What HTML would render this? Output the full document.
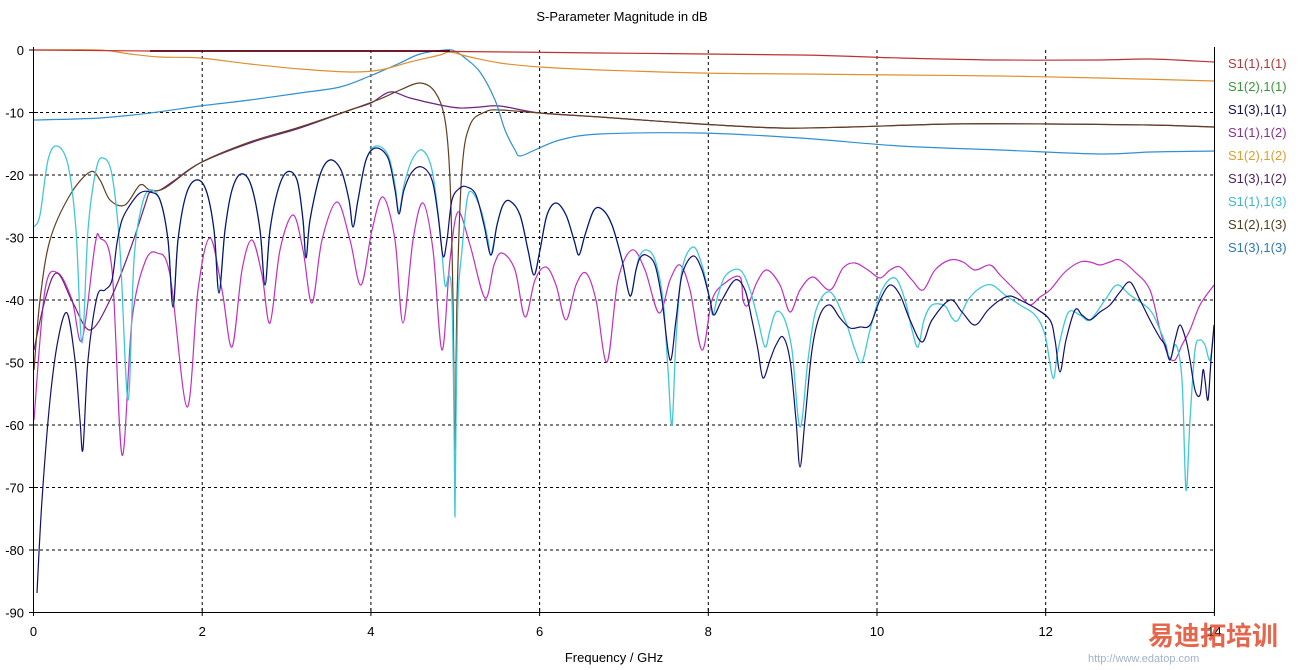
<!DOCTYPE html>
<html><head><meta charset="utf-8"><style>
body{margin:0;background:#fff;}
svg{display:block}
text{font-family:"Liberation Sans","Noto Sans CJK SC",sans-serif;}
</style></head><body>
<svg id="s" width="1303" height="670" xmlns="http://www.w3.org/2000/svg">
<rect width="1303" height="670" fill="#fff"/>
<text x="622" y="21" font-size="13" text-anchor="middle" fill="#000">S-Parameter Magnitude in dB</text>
<text x="614" y="662" font-size="13" text-anchor="middle" fill="#000">Frequency / GHz</text>
<g id="grid" stroke="#000" stroke-width="1" stroke-dasharray="3,3"></g>
<g id="ticks" font-size="13" fill="#000"></g>
<g id="curves" fill="none" stroke-width="1.2" stroke-linejoin="round"></g>
<line x1="33.5" y1="47" x2="33.5" y2="612.5" stroke="#000"/>
<line x1="30" y1="612.5" x2="1214.5" y2="612.5" stroke="#000"/>
<line x1="1214.5" y1="47" x2="1214.5" y2="612.5" stroke="#000"/>
<g font-size="13">
<text x="1228" y="68" fill="#b03838">S1(1),1(1)</text>
<text x="1228" y="91" fill="#389838">S1(2),1(1)</text>
<text x="1228" y="114" fill="#101050">S1(3),1(1)</text>
<text x="1228" y="137" fill="#8a3090">S1(1),1(2)</text>
<text x="1228" y="160" fill="#d8a030">S1(2),1(2)</text>
<text x="1228" y="183" fill="#502060">S1(3),1(2)</text>
<text x="1228" y="206" fill="#40b8c8">S1(1),1(3)</text>
<text x="1228" y="229" fill="#504020">S1(2),1(3)</text>
<text x="1228" y="252" fill="#3078b0">S1(3),1(3)</text>
</g>
<text x="1148" y="645" font-size="26" font-weight="bold" fill="#e04020" opacity="0.8">易迪拓培训</text>
<text x="1088" y="662" font-size="11" fill="#6080a0" opacity="0.6">http://www.edatop.com</text>
</svg>
<script>
var NS="http://www.w3.org/2000/svg";
var g=document.getElementById('grid'),t=document.getElementById('ticks'),c=document.getElementById('curves');
function el(p,n,a){var e=document.createElementNS(NS,n);for(var k in a)e.setAttribute(k,a[k]);p.appendChild(e);return e;}
for(var i=1;i<=8;i++){var y=50+i*62.5;el(g,'line',{x1:34,x2:1214,y1:y.toFixed(1),y2:y.toFixed(1)});}
for(var i=1;i<=6;i++){var x=33.5+i*168.7;el(g,'line',{x1:x.toFixed(1),x2:x.toFixed(1),y1:50,y2:612});}
for(var i=0;i<=9;i++){var y=50+i*62.5;var tx=el(t,'text',{x:24,y:(y+5).toFixed(1),'text-anchor':'end'});tx.textContent=i==0?'0':'-'+(i*10);
el(t,'line',{x1:29,x2:38,y1:y,y2:y,stroke:'#000'});}
for(var i=0;i<=7;i++){var x=33.5+i*168.7;var tx=el(t,'text',{x:x.toFixed(1),y:636,'text-anchor':'middle'});tx.textContent=i*2;
el(t,'line',{x1:x,x2:x,y1:608,y2:616,stroke:'#000'});}
function P(col,p,w){
 var n=p.length/2,X=[],Y=[];for(var i=0;i<n;i++){X.push(p[2*i]);Y.push(p[2*i+1]);}
 var d='M'+X[0]+','+Y[0];
 for(var i=0;i<n-1;i++){
  var x0=X[Math.max(i-1,0)],y0=Y[Math.max(i-1,0)],x1=X[i],y1=Y[i],x2=X[i+1],y2=Y[i+1],x3=X[Math.min(i+2,n-1)],y3=Y[Math.min(i+2,n-1)];
  var k=1/6;
  var c1x=x1+(x2-x0)*k,c1y=y1+(y2-y0)*k,c2x=x2-(x3-x1)*k,c2y=y2-(y3-y1)*k;
  // keep control x monotonic within segment
  c1x=Math.min(Math.max(c1x,x1),x2);c2x=Math.min(Math.max(c2x,x1),x2);
  d+=' C'+c1x.toFixed(1)+','+c1y.toFixed(1)+' '+c2x.toFixed(1)+','+c2y.toFixed(1)+' '+x2+','+y2;
 }
 el(c,'path',{d:d,stroke:col,'stroke-width':w||1.2});}
var mag=[34,420,45,290,58,273,72,300,82,340,95,245,100,238,112,270,122,455,132,320,145,262,157,253,170,275,187,407,198,290,210,238,222,290,232,347,242,270,252,240,262,275,270,323,280,250,293,215,303,250,312,303,322,240,337,202,350,240,361,285,372,230,383,197,395,240,403,323,413,240,423,203,433,250,442,350,450,260,458,212,470,245,485,298,494,265,502,253,515,270,525,317,535,280,546,267,556,285,566,320,576,285,586,273,596,300,607,362,618,280,632,250,645,270,659,313,670,280,680,265,690,290,702,350,712,300,725,283,740,277,743,300,748,305,757,282,767,270,780,285,790,312,800,290,813,277,830,290,843,268,855,263,868,270,880,278,890,270,900,267,912,280,923,290,935,270,950,260,963,262,975,270,990,265,1000,275,1010,285,1020,295,1030,305,1040,297,1050,290,1065,272,1080,262,1090,262,1100,265,1110,262,1120,260,1135,272,1150,290,1160,330,1168,355,1175,360,1182,345,1190,330,1200,305,1214,285];
P('#c030c0',mag);
var grn=mag.slice(0,mag.indexOf(830)).concat([830,285,845,272,860,268,880,272,900,275,922,280,940,270,960,260,980,263,1000,270,1015,285,1030,300,1040,310,1050,290,1060,275,1080,262,1100,255,1120,260,1135,272,1150,295,1160,330,1165,370,1168,412,1172,360,1178,300,1190,290,1200,292,1214,300]);
P('#40a040',grn.slice(mag.indexOf(700)),1.1);
P('#702080',[34,350,45,300,57,273,73,303,90,330,110,300,130,250,145,205,150,192,160,190,175,180,200,163,250,143,300,128,350,110,371,103,390,92,410,98,440,105,460,108,480,107,500,106,540,113,600,117,700,124,780,128,850,127,950,124,1050,124,1150,125,1214,127]);
P('#604020',[34,370,40,300,50,240,70,195,90,172,100,180,110,200,125,205,140,185,150,190,165,188,200,163,250,142,300,127,350,110,380,99,400,90,420,83,435,92,445,120,450,180,453,300,455,450,457,300,462,170,470,125,485,112,500,110,540,113,600,117,700,124,780,128,850,127,950,124,1050,124,1150,125,1214,127]);
var cy=[34,227,40,215,48,160,57,146,68,165,76,230,82,343,88,230,96,170,103,158,112,175,120,250,128,400,134,260,142,205,150,190,160,200,168,240,173,307,178,240,186,195,196,180,206,190,214,230,219,293,225,230,232,190,241,174,251,185,260,230,265,285,270,230,278,190,287,172,297,180,303,220,306,258,310,220,320,175,330,160,341,170,349,200,353,227,358,200,366,160,376,146,388,155,395,185,399,212,404,185,412,160,422,150,432,170,440,230,445,285,449,275,452,300,454,420,455,517,456,420,458,300,462,250,467,200,472,192,481,210,488,240,491,255,497,225,503,205,510,201,520,215,528,250,534,275,540,250,547,215,556,203,566,215,574,240,579,255,585,235,594,210,603,210,612,225,622,260,630,296,636,270,640,255,647,250,655,260,663,300,668,370,672,425,676,340,682,270,693,247,702,265,710,300,713,315,718,295,726,275,740,270,750,290,758,320,765,347,770,330,776,312,784,318,792,350,800,427,808,360,816,310,830,292,845,320,855,350,862,362,870,330,882,290,895,278,905,300,912,330,918,347,924,320,932,305,945,306,952,318,958,320,968,300,980,288,992,285,1005,295,1020,305,1035,315,1045,335,1053,378,1058,350,1068,313,1080,315,1090,320,1105,300,1117,285,1130,295,1150,310,1160,330,1166,345,1170,360,1176,345,1182,380,1186,490,1190,420,1195,350,1200,340,1205,345,1210,360,1214,330];
P('#40c8d8',cy,1.3);
var nv=[37,593,42,500,50,400,58,340,67,313,75,360,80,420,83,449,88,360,97,297,105,290,112,280,117,243,122,220,130,205,140,193,150,192,160,200,168,240,173,307,178,240,186,195,196,180,206,190,214,230,219,293,225,230,232,190,241,174,251,185,260,230,265,285,270,230,278,190,287,172,297,180,303,220,306,258,310,220,320,175,330,160,341,170,349,200,353,227,358,200,366,160,376,148,388,158,395,190,399,214,404,190,412,172,422,167,432,180,438,215,443,256,447,240,452,200,460,188,467,187,476,195,484,225,491,255,497,225,503,205,510,201,520,215,528,250,534,275,540,250,547,215,556,203,566,215,574,240,579,255,585,235,594,210,603,210,612,225,622,260,630,296,636,270,640,258,646,255,655,265,662,300,670,360,676,320,682,275,693,256,702,270,710,300,714,315,722,300,735,280,745,290,752,320,758,350,763,378,770,360,776,345,783,337,790,360,796,420,800,467,805,420,812,350,820,315,830,305,840,318,850,328,860,327,870,325,880,300,890,285,900,295,910,320,922,342,932,320,950,300,962,312,975,325,988,310,1000,300,1010,296,1020,300,1035,308,1050,320,1055,340,1060,372,1066,340,1075,310,1082,315,1090,320,1100,312,1110,305,1120,292,1130,282,1140,300,1150,320,1160,338,1165,345,1170,360,1175,340,1180,325,1186,340,1190,360,1195,390,1200,395,1203,370,1205,380,1208,400,1211,360,1214,325];
P('#101070',nv,1.2);
P('#3090d0',[34,120,100,118,150,113,200,106,250,100,300,93,340,87,370,76,400,63,420,54,445,50,455,51,465,58,480,72,495,100,505,130,515,150,520,156,535,150,560,140,600,134,700,133,800,138,900,146,1000,150,1100,154,1150,152,1214,151]);
P('#e09030',[34,50,100,50,130,54,160,57,200,58,250,64,300,69,350,72,380,70,410,62,440,55,450,52,470,57,500,63,540,67,600,70,700,73,800,74,900,75,1000,76,1100,78,1214,81]);
P('#c03030',[34,50,150,51,400,51,600,53,800,55,900,58,1000,60,1100,60,1150,59,1214,62]);
P('#600010',[150,51,450,51],1.8);
</script>
</body></html>
